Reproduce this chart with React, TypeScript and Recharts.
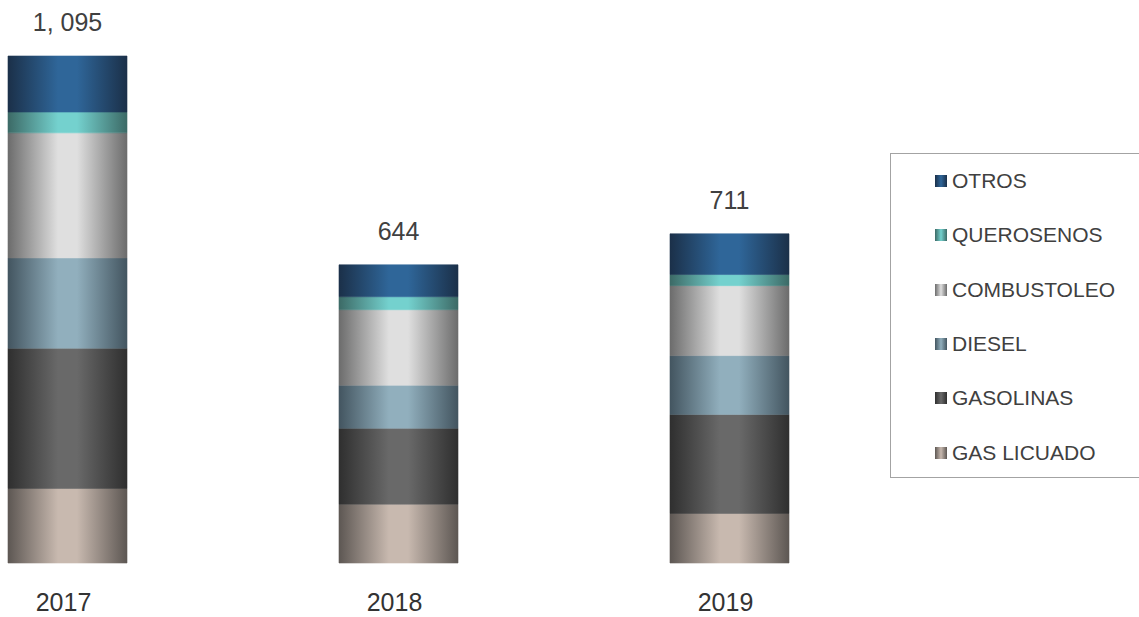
import { BarChart, Bar, XAxis, YAxis, LabelList } from 'recharts';

const years = ['2017', '2018', '2019'];
const gasLicuado = [161, 127, 107];
const gasolinas = [303, 164, 214];
const diesel = [195, 93, 127];
const combustoleo = [270, 163, 151];
const querosenos = [45, 28, 24];
const otros = [121, 69, 88];
const totals = [1095, 644, 711];

// stacked bottom -> top
const SERIES = [
  { key: 'gasLicuado', name: 'GAS LICUADO', values: gasLicuado, edge: '#5d5753', mid: '#c8b9af' },
  { key: 'gasolinas', name: 'GASOLINAS', values: gasolinas, edge: '#2f2f2f', mid: '#696969' },
  { key: 'diesel', name: 'DIESEL', values: diesel, edge: '#435560', mid: '#91afbd' },
  { key: 'combustoleo', name: 'COMBUSTOLEO', values: combustoleo, edge: '#6c6c6c', mid: '#dfdfdf' },
  { key: 'querosenos', name: 'QUEROSENOS', values: querosenos, edge: '#3c6a66', mid: '#74d1ce' },
  { key: 'otros', name: 'OTROS', values: otros, edge: '#1b3049', mid: '#2f6699' },
];

const data = years.map((year, i) => {
  const row: Record<string, string | number> = { year, total: totals[i] };
  SERIES.forEach((s) => {
    row[s.key] = s.values[i];
  });
  return row;
});

const FONT = '"Liberation Sans", Arial, sans-serif';

function formatTotal(v: number): string {
  if (v >= 1000) {
    return `${Math.floor(v / 1000)}, ${String(v % 1000).padStart(3, '0')}`;
  }
  return String(v);
}

function Legend() {
  return (
    <div
      style={{
        position: 'absolute',
        left: 890,
        top: 153,
        width: 260,
        height: 325,
        boxSizing: 'border-box',
        border: '1.5px solid #a3a3a3',
        background: '#fff',
        fontFamily: FONT,
        fontSize: 21,
        color: '#404040',
      }}
    >
      {[...SERIES].reverse().map((s) => (
        <div
          key={s.key}
          style={{ height: 54.3, display: 'flex', alignItems: 'center', paddingLeft: 44 }}
        >
          <div
            style={{
              width: 12,
              height: 12,
              marginRight: 5,
              background: `linear-gradient(to right, ${s.edge}, ${s.mid} 50%, ${s.edge})`,
            }}
          />
          <span>{s.name}</span>
        </div>
      ))}
    </div>
  );
}

export default function App() {
  return (
    <div style={{ position: 'absolute', left: 0, top: 0, width: 1139, height: 617, background: '#fff' }}>
      <BarChart
        width={1139}
        height={617}
        data={data}
        margin={{ top: 7.4, right: 244, bottom: 24, left: -98 }}
      >
        <defs>
          {SERIES.map((s) => (
            <linearGradient key={s.key} id={`grad-${s.key}`} x1="0" y1="0" x2="1" y2="0">
              <stop offset="0%" stopColor={s.edge} />
              <stop offset="42%" stopColor={s.mid} />
              <stop offset="58%" stopColor={s.mid} />
              <stop offset="100%" stopColor={s.edge} />
            </linearGradient>
          ))}
        </defs>
        <XAxis
          dataKey="year"
          axisLine={false}
          tickLine={false}
          tickSize={0}
          tickMargin={30}
          dx={-4}
          tick={{ fontSize: 25, fill: '#333333', fontFamily: FONT }}
        />
        <YAxis hide domain={[0, 1200]} />
        {SERIES.map((s, i) => (
          <Bar
            key={s.key}
            dataKey={s.key}
            name={s.name}
            stackId="a"
            barSize={119}
            fill={`url(#grad-${s.key})`}
            stroke={`url(#grad-${s.key})`}
            strokeWidth={0.6}
            isAnimationActive={false}
          >
            {i === SERIES.length - 1 && (
              <LabelList
                dataKey="total"
                position="top"
                offset={25}
                formatter={(v: number) => formatTotal(v)}
                style={{ fontSize: 25, fill: '#404040', fontFamily: FONT }}
              />
            )}
          </Bar>
        ))}
      </BarChart>
      <Legend />
    </div>
  );
}
